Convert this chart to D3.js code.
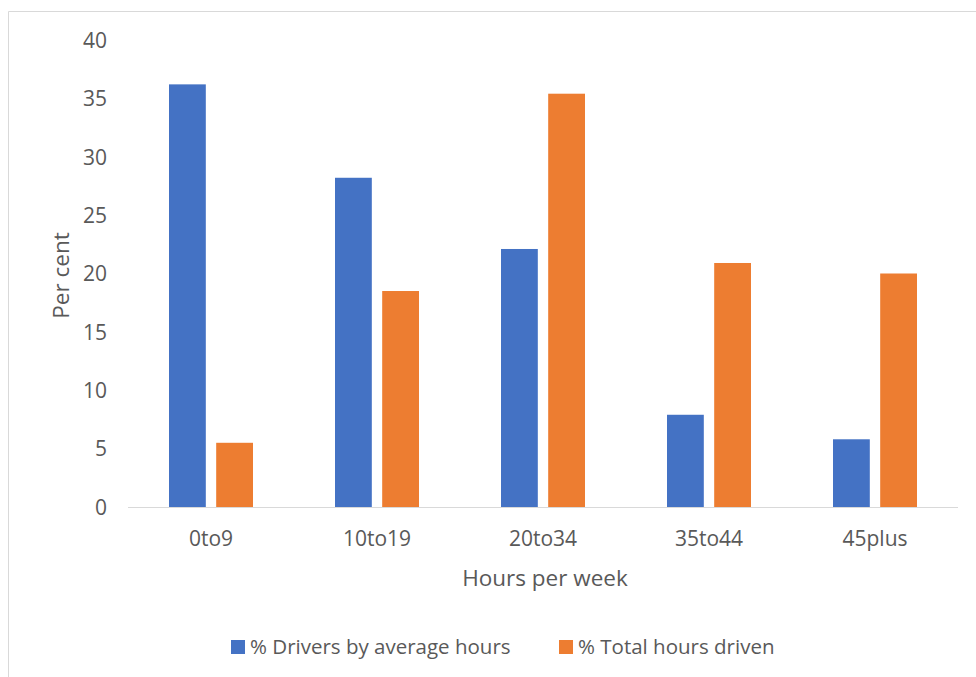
<!DOCTYPE html>
<html>
<head>
<meta charset="utf-8">
<script src="https://cdn.jsdelivr.net/npm/d3@7"></script>
<style>
  html, body { margin: 0; padding: 0; background: #fff; }
  svg { display: block; font-family: "Open Sans", sans-serif; }
</style>
</head>
<body>
<svg id="chart" width="976" height="677"></svg>
<script>
// Weekly driving hours: share of drivers vs share of total hours driven
const categories = ["0to9", "10to19", "20to34", "35to44", "45plus"];
const seriesNames = ["% Drivers by average hours", "% Total hours driven"];
const driversShare = [36.2, 28.2, 22.1, 7.9, 5.8];
const hoursShare = [5.5, 18.5, 35.4, 20.9, 20.0];
const yTicks = [0, 5, 10, 15, 20, 25, 30, 35, 40];
const colors = ["#4472C4", "#ED7D31"];

const svg = d3.select("#chart");
const textColor = "#595959";

// outer frame
svg.append("path")
  .attr("d", "M8.5,677 V11.5 H976")
  .attr("fill", "none")
  .attr("stroke", "#d9d9d9")
  .attr("stroke-width", 1);

const plot = { left: 128, right: 958, top: 40, bottom: 507 };

const x0 = d3.scaleBand().domain(categories).range([plot.left, plot.right]).paddingInner(0).paddingOuter(0);
const x1 = d3.scaleBand().domain(seriesNames).range([-42, 42]).paddingInner(0.22);
const y = d3.scaleLinear().domain([0, 40]).range([plot.bottom, plot.top]);

const rows = categories.map((c, i) => ({ cat: c, values: [driversShare[i], hoursShare[i]] }));

const groups = svg.append("g").selectAll("g")
  .data(rows).join("g")
  .attr("transform", d => `translate(${x0(d.cat) + x0.bandwidth() / 2},0)`);

groups.selectAll("rect")
  .data(d => d.values.map((v, k) => ({ name: seriesNames[k], v, k })))
  .join("rect")
  .attr("x", d => x1(d.name))
  .attr("width", x1.bandwidth())
  .attr("y", d => y(d.v))
  .attr("height", d => y(0) - y(d.v))
  .attr("fill", d => colors[d.k]);

// y axis labels
const yAxis = d3.axisLeft(y).tickValues(yTicks).tickSize(0).tickPadding(0);
const gy = svg.append("g").attr("transform", "translate(107,0)").call(yAxis);
gy.select(".domain").remove();
gy.selectAll("text").attr("fill", textColor).attr("dy", "0.35em")
  .style("font-size", "21px").style("font-family", "Open Sans, sans-serif");

// x axis baseline and labels
const xAxis = d3.axisBottom(x0).tickSize(0).tickPadding(0);
const gx = svg.append("g").attr("transform", `translate(0,${plot.bottom})`).call(xAxis);
gx.select(".domain").attr("stroke", "#d9d9d9").attr("d", `M${plot.left},0.5H${plot.right}`);
gx.selectAll("text").attr("fill", textColor).attr("dy", null).attr("y", 39)
  .style("font-size", "21px").style("font-family", "Open Sans, sans-serif");

// axis titles
svg.append("text")
  .attr("x", (plot.left + plot.right) / 2 + 2)
  .attr("y", 586)
  .attr("text-anchor", "middle")
  .attr("fill", textColor)
  .style("font-size", "22.5px")
  .text("Hours per week");

svg.append("text")
  .attr("transform", `translate(69,${(plot.top + plot.bottom) / 2 + 2}) rotate(-90)`)
  .attr("text-anchor", "middle")
  .attr("fill", textColor)
  .style("font-size", "22.5px")
  .text("Per cent");

// legend
const legend = svg.append("g");
const legendItems = [{ name: seriesNames[0], x: 231 }, { name: seriesNames[1], x: 559 }];
legendItems.forEach((d, i) => {
  legend.append("rect").attr("x", d.x).attr("y", 640).attr("width", 14).attr("height", 14).attr("fill", colors[i]);
  legend.append("text").attr("x", d.x + 19).attr("y", 654).attr("fill", textColor)
    .style("font-size", "20.5px").text(d.name);
});
</script>
</body>
</html>
